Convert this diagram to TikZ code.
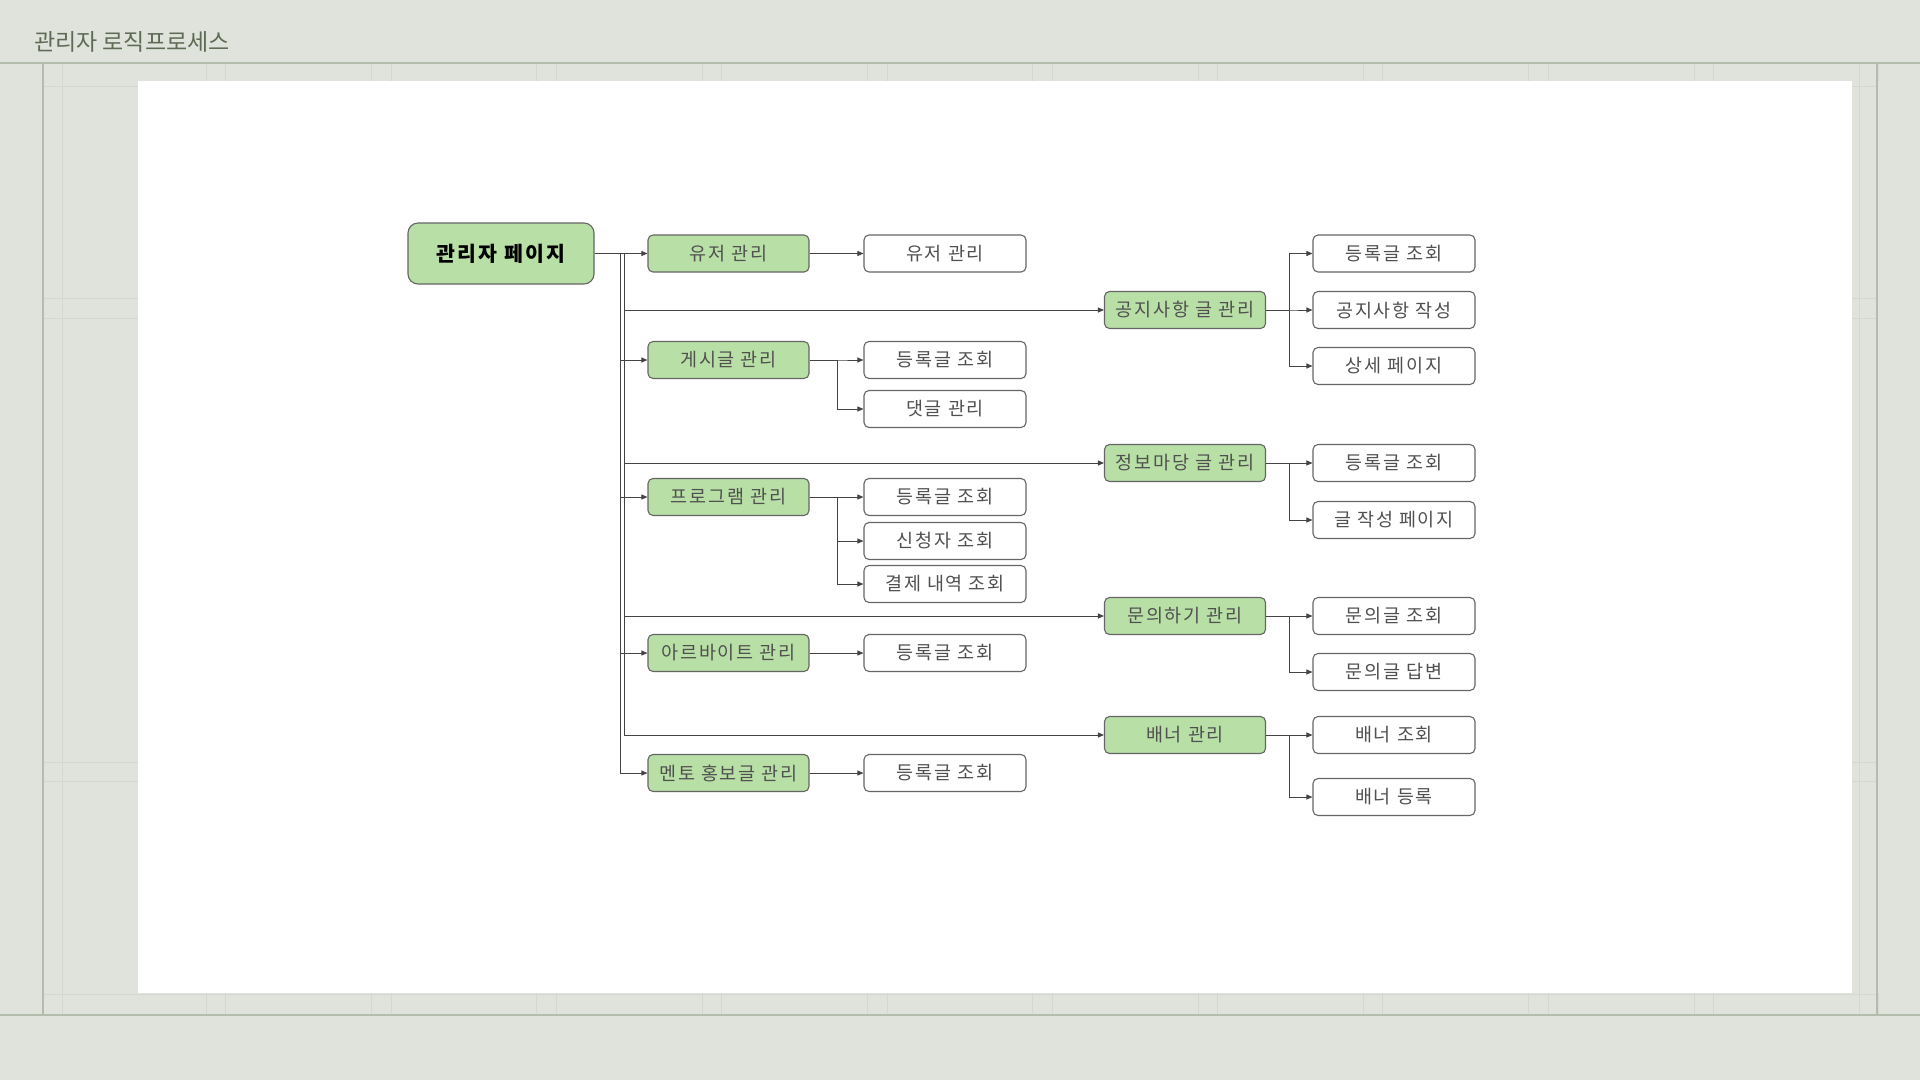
\documentclass[tikz,border=0pt]{standalone}
\usepackage{fontspec}
\usepackage{tikz}
\usetikzlibrary{arrows.meta}

\newfontfamily\kr[LetterSpace=10]{Noto Sans CJK KR}
\newfontfamily\krtitle{Noto Sans CJK KR}

\definecolor{bgGray}{HTML}{E0E3DC}
\definecolor{frameLine}{HTML}{B4BCAE}
\definecolor{gridLine}{HTML}{D4D8D0}
\definecolor{menuGreen}{HTML}{B8DFA5}
\definecolor{boxLine}{HTML}{666666}
\definecolor{boxText}{HTML}{505050}
\definecolor{titleText}{HTML}{5E6B55}
\definecolor{wireGray}{HTML}{444444}

\tikzset{
  menu/.style={draw=boxLine, line width=1.1pt, fill=menuGreen, rounded corners=5pt,
    minimum width=161pt, minimum height=37pt, inner sep=0pt,
    text=boxText, font=\kr\fontsize{18.5}{18.5}\selectfont},
  leaf/.style={menu, fill=white, minimum width=162pt},
  rootbox/.style={menu, rounded corners=10pt, minimum width=186pt,
    minimum height=61pt, text=black, font=\kr\bfseries\fontsize{20.5}{20.5}\selectfont},
  line/.style={draw=wireGray, line width=0.9pt},
  wire/.style={line, -{Triangle[length=6pt,width=5pt]}},
}

\begin{document}
\begin{tikzpicture}[x=1pt, y=-1pt]
    % page and frame
    \useasboundingbox (0,0) rectangle (1920,1080);
    \fill[bgGray] (0,0) rectangle (1920,1080);
    \fill[white] (138,81) rectangle (1852,993);
    \foreach \x in {0,...,10} {
        \draw[gridLine] ({206+165.3*\x},63) -- ++(0,18);
        \draw[gridLine] ({225.5+165.3*\x},63) -- ++(0,18);
        \draw[gridLine] ({206+165.3*\x},993) -- ++(0,22);
        \draw[gridLine] ({225.5+165.3*\x},993) -- ++(0,22);
    }
    \draw[gridLine] (62,63) -- (62,1015);
    \draw[gridLine] (1859,63) -- (1859,1015);
    \foreach \y in {86,298,318,762,781} {
        \draw[gridLine] (43,\y) -- (138,\y);
        \draw[gridLine] (1852,\y) -- (1877,\y);
    }
    \draw[gridLine] (43,994) -- (1877,994);
    \draw[frameLine, line width=2pt] (0,63) -- (1920,63);
    \draw[frameLine, line width=2pt] (0,1015) -- (1920,1015);
    \draw[frameLine, line width=2pt] (43,63) -- (43,1015);
    \draw[frameLine, line width=2pt] (1877,63) -- (1877,1015);

    \node[anchor=west, inner sep=0pt, text=titleText,
        font=\krtitle\fontsize{23}{23}\selectfont] (title) at (34,42) {관리자 로직프로세스};

    % root
    \node[rootbox] (root) at (501,253.5) {관리자 페이지};

    % left menus
    \node[menu] (user) at (728.5,253.5) {유저 관리};
    \node[menu] (board) at (728.5,360) {게시글 관리};
    \node[menu] (program) at (728.5,497) {프로그램 관리};
    \node[menu] (parttime) at (728.5,653) {아르바이트 관리};
    \node[menu] (mentor) at (728.5,773) {멘토 홍보글 관리};

    \node[leaf] (user-list) at (945,253.5) {유저 관리};
    \node[leaf] (board-list) at (945,360) {등록글 조회};
    \node[leaf] (board-reply) at (945,409) {댓글 관리};
    \node[leaf] (program-list) at (945,497) {등록글 조회};
    \node[leaf] (program-apply) at (945,541) {신청자 조회};
    \node[leaf] (program-pay) at (945,584) {결제 내역 조회};
    \node[leaf] (parttime-list) at (945,653) {등록글 조회};
    \node[leaf] (mentor-list) at (945,773) {등록글 조회};

    % right menus
    \node[menu] (notice) at (1185,310) {공지사항 글 관리};
    \node[menu] (info) at (1185,463) {정보마당 글 관리};
    \node[menu] (qna) at (1185,616) {문의하기 관리};
    \node[menu] (banner) at (1185,735) {배너 관리};

    \node[leaf] (notice-list) at (1394,253.5) {등록글 조회};
    \node[leaf] (notice-write) at (1394,310) {공지사항 작성};
    \node[leaf] (notice-detail) at (1394,366) {상세 페이지};
    \node[leaf] (info-list) at (1394,463) {등록글 조회};
    \node[leaf] (info-write) at (1394,520) {글 작성 페이지};
    \node[leaf] (qna-list) at (1394,616) {문의글 조회};
    \node[leaf] (qna-answer) at (1394,672) {문의글 답변};
    \node[leaf] (banner-list) at (1394,735) {배너 조회};
    \node[leaf] (banner-add) at (1394,797) {배너 등록};

    % connectors
    \coordinate (trunkL) at (620,253.5);
    \coordinate (trunkR) at (624,253.5);
    \draw[wire] (root.east) -- (user.west);
    \draw[line] (root.east) -- (trunkR);
    \foreach \n in {board,program,parttime,mentor}
        \draw[wire] (trunkL) |- (\n.west);
    \foreach \n in {notice,info,qna,banner}
        \draw[wire] (trunkR) |- (\n.west);

    \foreach \p/\c in {user/user-list, board/board-list, board/board-reply,
        program/program-list, program/program-apply, program/program-pay,
        parttime/parttime-list, mentor/mentor-list}
        \draw[wire] (\p.east) -- ++(28,0) |- (\c.west);
    \foreach \p/\c in {notice/notice-list, notice/notice-write, notice/notice-detail,
        info/info-list, info/info-write, qna/qna-list, qna/qna-answer,
        banner/banner-list, banner/banner-add}
        \draw[wire] (\p.east) -- ++(23,0) |- (\c.west);
\end{tikzpicture}
\end{document}
